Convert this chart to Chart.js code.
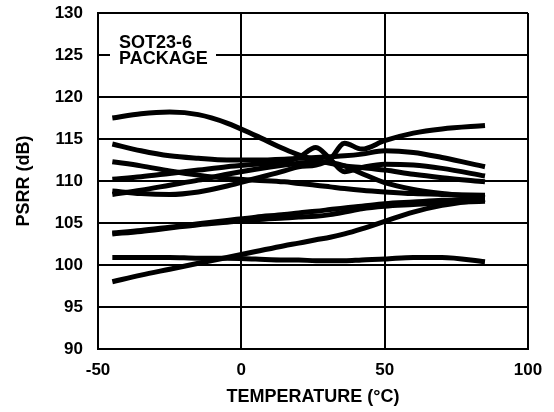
<!DOCTYPE html>
<html>
<head>
<meta charset="utf-8">
<script src="https://cdn.jsdelivr.net/npm/chart.js@4"></script>
<style>
  html, body { margin: 0; padding: 0; background: #fff; }
  #wrap { width: 554px; height: 412px; }
</style>
</head>
<body>
<div id="wrap"><canvas id="chart1"></canvas></div>
<script>
// temperature points (°C) shared by all curves
const temps = [-45, -35, -25, -15, -5, 5, 15, 20, 26, 31, 36, 42, 50, 60, 70, 85];

// PSRR (dB) of the sample units
const unit1  = [117.5, 118.0, 118.2, 117.9, 116.9, 115.4, 113.8, 113.1, 112.5, 112.1, 111.8, 111.6, 111.3, 110.8, 110.4, 109.9];
const unit2  = [114.4, 113.6, 113.0, 112.7, 112.5, 112.5, 112.6, 112.7, 112.8, 112.9, 113.0, 113.2, 113.6, 113.4, 112.8, 111.7];
const unit3  = [112.3, 111.8, 111.2, 110.7, 110.3, 110.1, 109.9, 109.7, 109.5, 109.3, 109.1, 108.9, 108.7, 108.5, 108.4, 108.3];
const unit4  = [110.2, 110.5, 110.9, 111.3, 111.7, 112.0, 112.3, 112.8, 114.0, 112.6, 111.1, 111.6, 112.0, 111.9, 111.5, 110.6];
const unit5  = [108.8, 108.5, 108.4, 108.7, 109.4, 110.3, 111.2, 111.7, 111.9, 112.6, 114.5, 113.8, 114.8, 115.7, 116.2, 116.6];
const unit6  = [108.4, 108.9, 109.5, 110.1, 110.8, 111.4, 111.9, 112.1, 112.3, 112.2, 111.8, 110.9, 109.8, 109.0, 108.5, 108.0];
const unit7  = [103.8, 104.1, 104.5, 104.9, 105.3, 105.7, 106.0, 106.2, 106.4, 106.6, 106.8, 107.0, 107.3, 107.5, 107.7, 107.9];
const unit8  = [103.7, 104.0, 104.4, 104.8, 105.1, 105.4, 105.6, 105.7, 105.8, 106.0, 106.3, 106.7, 107.0, 107.2, 107.4, 107.6];
const unit9  = [98.0, 98.8, 99.5, 100.2, 100.9, 101.6, 102.3, 102.6, 103.0, 103.3, 103.7, 104.3, 105.2, 106.3, 107.1, 107.8];
const unit10 = [100.9, 100.9, 100.9, 100.8, 100.8, 100.7, 100.6, 100.6, 100.5, 100.5, 100.5, 100.6, 100.7, 100.9, 100.9, 100.4];

const units = [unit1, unit2, unit3, unit4, unit5, unit6, unit7, unit8, unit9, unit10];

const boldFont = "'Liberation Sans', Arial, sans-serif";

// package note, drawn on a white patch over the grid
const notePlugin = {
    id: 'note',
    beforeDatasetsDraw(chart) {
        const c = chart.ctx;
        c.save();
        c.fillStyle = '#fff';
        c.fillRect(110, 32, 106, 36);
        c.fillStyle = '#000';
        c.font = 'bold 18px ' + boldFont;
        c.textBaseline = 'alphabetic';
        c.fillText('SOT23-6', 119, 48);
        c.fillText('PACKAGE', 119, 64);
        c.restore();
    }
};

new Chart(document.getElementById('chart1'), {
    type: 'line',
    data: {
        datasets: units.map(u => ({
            data: temps.map((t, i) => ({ x: t, y: u[i] })),
            borderColor: '#000',
            borderWidth: 5,
            borderCapStyle: 'butt',
            pointRadius: 0,
            fill: false,
            cubicInterpolationMode: 'monotone'
        }))
    },
    options: {
        responsive: true,
        maintainAspectRatio: false,
        animation: false,
        layout: { padding: { left: 9, top: 13, right: 26, bottom: 0 } },
        plugins: {
            legend: { display: false },
            tooltip: { enabled: false }
        },
        scales: {
            x: {
                type: 'linear',
                min: -50,
                max: 100,
                ticks: {
                    stepSize: 50,
                    color: '#000',
                    padding: 11,
                    maxRotation: 0,
                    font: { family: boldFont, size: 17, weight: 'bold' }
                },
                grid: { color: '#000', lineWidth: 2, drawTicks: false },
                border: { color: '#000', width: 2 },
                title: {
                    display: true,
                    text: 'TEMPERATURE (°C)',
                    color: '#000',
                    font: { family: boldFont, size: 18, weight: 'bold' }
                },
                afterFit: s => { s.height = 63; s.paddingLeft = 0; s.paddingRight = 0; }
            },
            y: {
                min: 90,
                max: 130,
                ticks: {
                    stepSize: 5,
                    color: '#000',
                    padding: 15,
                    font: { family: boldFont, size: 17, weight: 'bold' }
                },
                grid: { color: '#000', lineWidth: 2, drawTicks: false },
                border: { color: '#000', width: 2 },
                title: {
                    display: true,
                    text: 'PSRR (dB)',
                    color: '#000',
                    font: { family: boldFont, size: 18, weight: 'bold' }
                },
                afterFit: s => { s.width = 89; s.paddingTop = 0; s.paddingBottom = 0; }
            }
        }
    },
    plugins: [notePlugin]
});
</script>
</body>
</html>
